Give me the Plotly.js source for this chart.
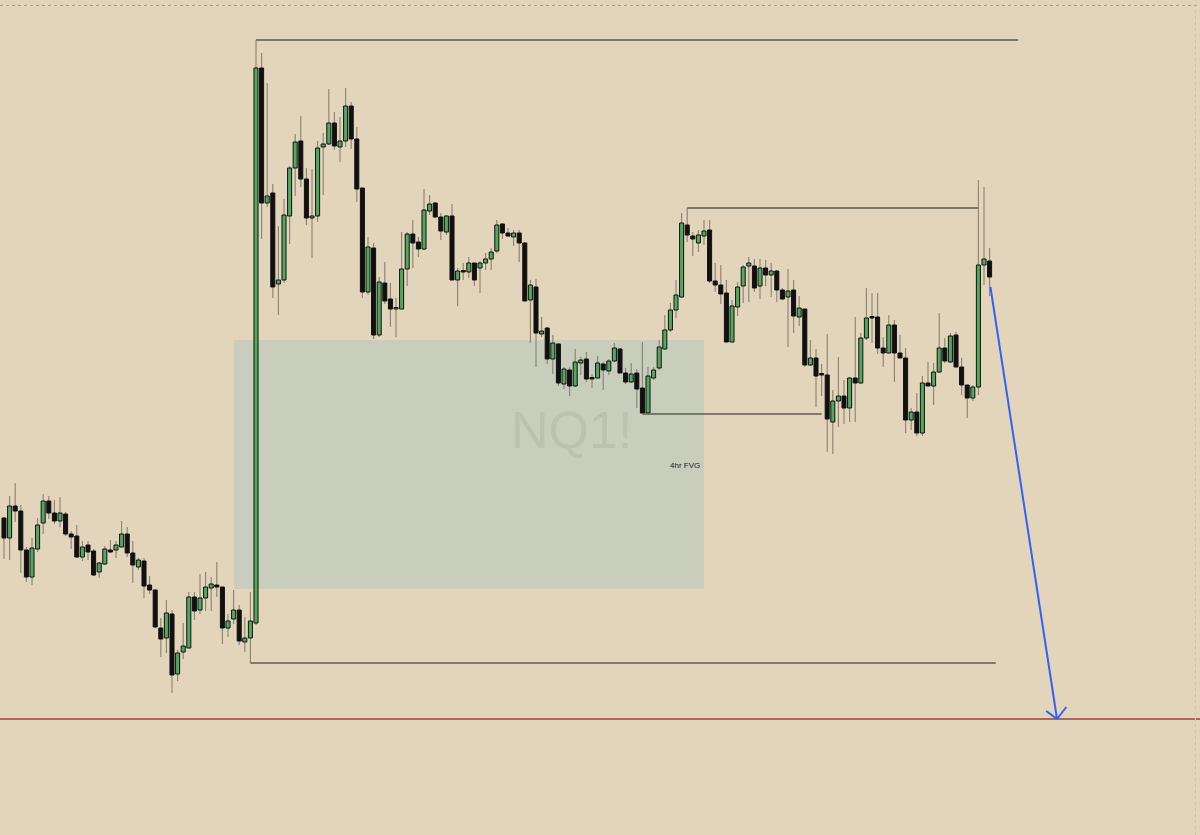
<!DOCTYPE html>
<html>
<head>
<meta charset="utf-8">
<script src="https://cdn.plot.ly/plotly-3.0.1.min.js"></script>
<style>html,body{margin:0;padding:0;background:#e3d5bb;}#chart{width:1200px;height:835px;}</style>
</head>
<body>
<div id="chart"></div>
<script>
// NQ1! candles (price levels, arbitrary units)
const open = [317,297,329,324,285,258,286,312,334,322,
314,321,301,299,278,290,284,263,271,285,
285,288,301,282,268,274,250,245,207,197,
221,161,183,187,238,225,237,247,250,248,
207,216,225,193,197,212,767,632,642,551,
555,619,667,694,656,617,619,688,691,712,
688,694,729,696,647,543,587,500,552,536,
526,526,566,601,593,586,624,632,618,603,
619,555,564,563,572,567,572,576,584,611,
602,598,602,592,535,548,501,507,476,491,
451,465,449,472,476,457,457,471,464,474,
486,462,453,462,447,422,457,467,486,505,
525,538,610,599,592,599,605,554,550,542,
493,528,549,569,569,549,567,560,564,545,
538,545,518,526,470,477,461,460,413,434,
439,427,457,452,497,518,518,487,482,510,
482,477,415,423,402,452,449,463,487,473,
500,468,450,437,448,570,574];
const close = [297,329,324,285,258,287,310,334,322,314,
322,301,298,278,288,283,260,272,286,283,
290,301,282,270,275,249,245,208,196,222,
160,182,189,238,224,237,248,251,248,207,
214,225,194,197,214,767,632,639,548,555,
620,667,693,656,617,619,687,691,712,689,
694,729,696,646,543,588,500,553,534,526,
527,566,601,592,586,625,631,618,604,619,
555,564,563,572,555,572,576,583,610,602,
599,602,592,534,550,502,504,476,492,452,
466,449,473,475,456,456,472,465,474,487,
462,453,461,446,422,459,465,488,505,525,
540,612,600,596,600,604,554,550,541,493,
529,548,568,572,547,567,560,564,545,536,
544,519,527,470,477,459,460,416,434,439,
427,457,452,497,517,517,487,482,510,482,
477,415,423,402,452,449,463,487,474,499,
468,450,437,448,570,576,558];
const high = [318,339,352,330,288,297,317,341,339,335,
338,323,304,310,294,294,286,273,289,295,
294,314,308,294,277,277,259,246,217,235,
225,185,212,243,243,261,263,258,273,248,
221,245,230,218,243,795,782,752,651,609,
636,669,701,719,667,666,694,702,746,723,
718,747,733,708,647,598,592,558,573,552,
537,603,603,615,598,646,640,633,622,620,
631,567,572,578,572,574,582,587,615,612,
607,605,605,593,555,556,518,508,500,492,
468,468,486,478,483,461,479,473,476,492,
487,467,472,466,493,468,468,495,520,532,
555,622,627,603,605,615,615,572,570,555,
535,553,570,578,576,576,575,572,565,547,
566,555,539,526,495,486,471,501,445,478,
455,458,518,502,547,542,542,498,520,515,
500,487,427,442,459,473,472,522,497,502,
503,477,450,450,655,648,587];
const low = [276,275,313,262,253,250,283,301,316,311,
308,299,286,277,274,275,259,257,270,282,
277,288,278,252,265,237,241,207,178,182,
142,154,176,187,215,221,224,224,238,191,
198,211,190,183,172,210,596,628,537,520,
552,591,639,648,610,577,613,640,690,685,
673,688,686,633,537,540,496,498,531,508,
498,526,549,567,578,585,620,617,595,600,
555,529,555,557,549,542,565,565,582,596,
598,589,573,534,492,468,498,471,461,449,
446,439,448,460,453,447,456,445,460,473,
462,451,452,427,421,421,455,465,485,503,
517,537,593,579,583,590,552,543,531,493,
493,519,532,533,543,536,549,538,533,535,
488,502,509,468,469,428,439,383,381,408,
411,413,413,451,495,492,481,468,482,453,
477,402,405,399,399,449,430,462,472,472,
468,440,417,434,440,550,539];

// levels / annotations
const fvgLow = 246, fvgHigh = 495, fvgStart = 41.1, fvgEnd = 125;
const targetLevel = 116;
const symbolText = "NQ1!";
const fvgLabel = "4hr FVG";

const BG = '#e3d5bb', GREEN = '#52a85e', BLACK = '#111111', WICK = '#8a8272', LINE = '#5e5a54';

const idx = open.map((_, i) => i);

// wicks drawn as thin bars first so the bodies sit on top
const wicks = {
  type:'bar', x:idx,
  base: idx.map(i => low[i]),
  y: idx.map(i => high[i] - low[i]),
  width:0.2,
  marker:{color:WICK, line:{width:0}}, hoverinfo:'skip'
};
const bodies = {
  type:'bar', x:idx,
  base: idx.map(i => Math.min(open[i], close[i])),
  y: idx.map(i => Math.max(Math.abs(close[i] - open[i]), 1.5)),
  width:0.72,
  marker:{color: idx.map(i => close[i] >= open[i] ? GREEN : BLACK), line:{color:BLACK, width:1}}
};

const n = open.length;
const iTop = 45, iBot = 44, iMidHigh = 122, iMidLow = 114;
const lastX = n - 1;

const shapes = [
  {type:'rect', layer:'below', x0:fvgStart, x1:fvgEnd, y0:fvgLow, y1:fvgHigh, fillcolor:'#c8cebb', line:{width:0}},
  {type:'line', x0:iTop, x1:181.1, y0:high[iTop], y1:high[iTop], line:{color:LINE, width:1.5}},
  {type:'line', x0:iBot, x1:177.1, y0:low[iBot], y1:low[iBot], line:{color:LINE, width:1.5}},
  {type:'line', x0:iMidHigh, x1:174, y0:high[iMidHigh], y1:high[iMidHigh], line:{color:LINE, width:1.5}},
  {type:'line', x0:iMidLow, x1:146, y0:low[iMidLow], y1:low[iMidLow], line:{color:LINE, width:1.5}},
  {type:'line', xref:'paper', x0:0, x1:1, y0:targetLevel, y1:targetLevel, line:{color:'#a83a3a', width:1.5}},
  {type:'line', xref:'paper', yref:'paper', x0:0, x1:1, y0:0.9935, y1:0.9935, line:{color:'#a89c86', width:1, dash:'dot'}},
  {type:'line', xref:'paper', yref:'paper', x0:0.9962, x1:0.9962, y0:0, y1:1, line:{color:'#cfc3aa', width:1, dash:'dot'}},
  // projection arrow
  {type:'line', x0:lastX + 0.15, y0:548, x1:188.04, y1:targetLevel, line:{color:'#2f63f5', width:2}},
  {type:'line', x0:186.1, y0:124, x1:188.04, y1:targetLevel, line:{color:'#2f63f5', width:2}},
  {type:'line', x0:189.7, y0:128, x1:188.04, y1:targetLevel, line:{color:'#2f63f5', width:2}}
];

const annotations = [
  {x:101.4, y:(fvgLow + fvgHigh) / 2 + 35, text:symbolText, showarrow:false,
   font:{family:'Liberation Sans, Arial', size:52, color:'#bdc2ae'}},
  {x:fvgEnd - 0.4, y:370, text:fvgLabel, showarrow:false, xanchor:'right',
   font:{family:'Liberation Sans, Arial', size:8, color:'#222'}}
];

const layout = {
  width:1200, height:835,
  margin:{l:0, r:0, t:0, b:0, pad:0},
  paper_bgcolor:BG, plot_bgcolor:BG,
  showlegend:false, barmode:'overlay',
  xaxis:{range:[-0.714, 213.57], visible:false, fixedrange:true},
  yaxis:{range:[0, 835], visible:false, fixedrange:true},
  shapes, annotations
};

Plotly.newPlot('chart', [wicks, bodies], layout, {displayModeBar:false, staticPlot:true});
</script>
</body>
</html>
